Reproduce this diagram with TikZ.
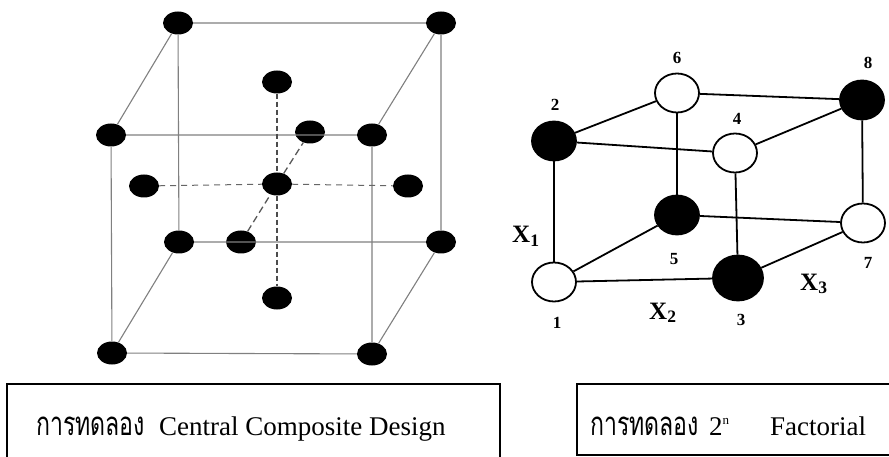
\documentclass[tikz,border=0pt]{standalone}
\usepackage{fontspec}
\setmainfont{Liberation Serif}
\newfontfamily\thaifont[Script=Thai,FakeStretch=0.70]{Loma}
\usetikzlibrary{shapes.geometric}
\begin{document}
\begin{tikzpicture}[x=1pt,y=-1pt,
  ccdot/.style={ellipse,fill=black,minimum width=30pt,minimum height=23pt,inner sep=0pt},
  cubeline/.style={draw=black!50,line width=1.1pt},
  vdash/.style={draw=black!70,line width=1.7pt,dash pattern=on 5pt off 3pt},
  hdash/.style={draw=black!60,line width=1pt,dash pattern=on 6pt off 5pt},
  ddash/.style={draw=black!65,line width=1.3pt,dash pattern=on 7pt off 4pt},
  fpt/.style={ellipse,draw=black,line width=1.8pt,minimum width=44pt,minimum height=39pt,inner sep=0pt},
  hi/.style={fpt,fill=black},
  lo/.style={fpt,fill=white},
  fedge/.style={draw=black,line width=1.8pt},
  num/.style={font=\fontsize{17}{17}\selectfont\bfseries,inner sep=0pt},
  axlab/.style={font=\fontsize{25}{25}\selectfont\bfseries,inner sep=0pt,anchor=base west},
  capbox/.style={draw=black,line width=1.3pt},
  captext/.style={font=\fontsize{27}{30}\selectfont,inner sep=0pt,anchor=base west},
  thaitext/.style={font=\fontsize{33}{34}\thaifont,inner sep=0pt,anchor=base west}
]
\useasboundingbox (0,0) rectangle (889,457);
\fill[white] (0,0) rectangle (889,457);
\clip (0,0) rectangle (889,457);

% ---------- Central composite design ----------
% cube corners (f = front face, b = back face)
\node[ccdot] (fTL) at (111,135) {};
\node[ccdot] (fTR) at (372,135) {};
\node[ccdot] (fBL) at (112,353) {};
\node[ccdot] (fBR) at (372,354) {};
\node[ccdot] (bTL) at (178,23) {};
\node[ccdot] (bTR) at (441,23) {};
\node[ccdot] (bBL) at (179,242) {};
\node[ccdot] (bBR) at (441,242) {};
% centre and axial points
\node[ccdot] (ctr) at (277,184) {};
\node[ccdot] (aTop) at (277,82) {};
\node[ccdot] (aBot) at (277,298) {};
\node[ccdot] (aLeft) at (144,186) {};
\node[ccdot] (aRight) at (408,186) {};
\node[ccdot] (aFront) at (241,242) {};
\node[ccdot] (aBack) at (310,132) {};

\draw[cubeline] (fTL) -- (fTR) -- (fBR) -- (fBL) -- (fTL);
\draw[cubeline] (bTL) -- (bTR) -- (bBR) -- (bBL) -- (bTL);
\draw[cubeline] (fTL) -- (bTL);
\draw[cubeline] (fTR) -- (bTR);
\draw[cubeline] (fBL) -- (bBL);
\draw[cubeline] (fBR) -- (bBR);
\draw[vdash] (aTop) -- (ctr);
\draw[vdash] (ctr) -- (aBot);
\draw[hdash] (aLeft) -- (ctr);
\draw[hdash] (ctr) -- (aRight);
\draw[ddash] (aFront) -- (ctr);
\draw[ddash] (ctr) -- (aBack);

% ---------- 2^n factorial ----------
\node[lo] (p1) at (554,282) {};
\node[hi] (p2) at (554,141) {};
\node[hi,minimum width=50pt,minimum height=45pt] (p3) at (738,278) {};
\node[lo] (p4) at (735,153) {};
\node[hi] (p5) at (677,215) {};
\node[lo] (p6) at (677,93) {};
\node[lo] (p7) at (863,223) {};
\node[hi] (p8) at (862,100) {};

\draw[fedge] (p1) -- (p3);
\draw[fedge] (p1) -- (p5);
\draw[fedge] (p1) -- (p2);
\draw[fedge] (p2) -- (p4);
\draw[fedge] (p2) -- (p6);
\draw[fedge] (p3) -- (p4);
\draw[fedge] (p3) -- (p7);
\draw[fedge] (p5) -- (p6);
\draw[fedge] (p5) -- (p7);
\draw[fedge] (p6) -- (p8);
\draw[fedge] (p4) -- (p8);
\draw[fedge] (p7) -- (p8);

\node[num] (n1) at (557,323) {1};
\node[num] (n2) at (555,105) {2};
\node[num] (n3) at (741,320) {3};
\node[num] (n4) at (737,119) {4};
\node[num] (n5) at (674,259) {5};
\node[num] (n6) at (677,58) {6};
\node[num] (n7) at (868,263) {7};
\node[num] (n8) at (868,63) {8};

\node[axlab] (x1) at (512,243) {X\textsubscript{1}};
\node[axlab] (x2) at (649,319) {X\textsubscript{2}};
\node[axlab] (x3) at (800,290) {X\textsubscript{3}};

% ---------- captions ----------
\draw[capbox] (7,384) rectangle (500,462);
\draw[capbox] (577,384) rectangle (895,455);
\node[thaitext] (capA) at (36,435) {การทดลอง};
\node[captext] (capB) at (159,435) {Central Composite Design};
\node[thaitext] (capC) at (590,435) {การทดลอง};
\node[captext] (capD) at (709,435) {2\raisebox{11pt}{\fontsize{13}{13}\selectfont n}};
\node[captext] (capE) at (770,435) {Factorial};
\end{tikzpicture}
\end{document}
